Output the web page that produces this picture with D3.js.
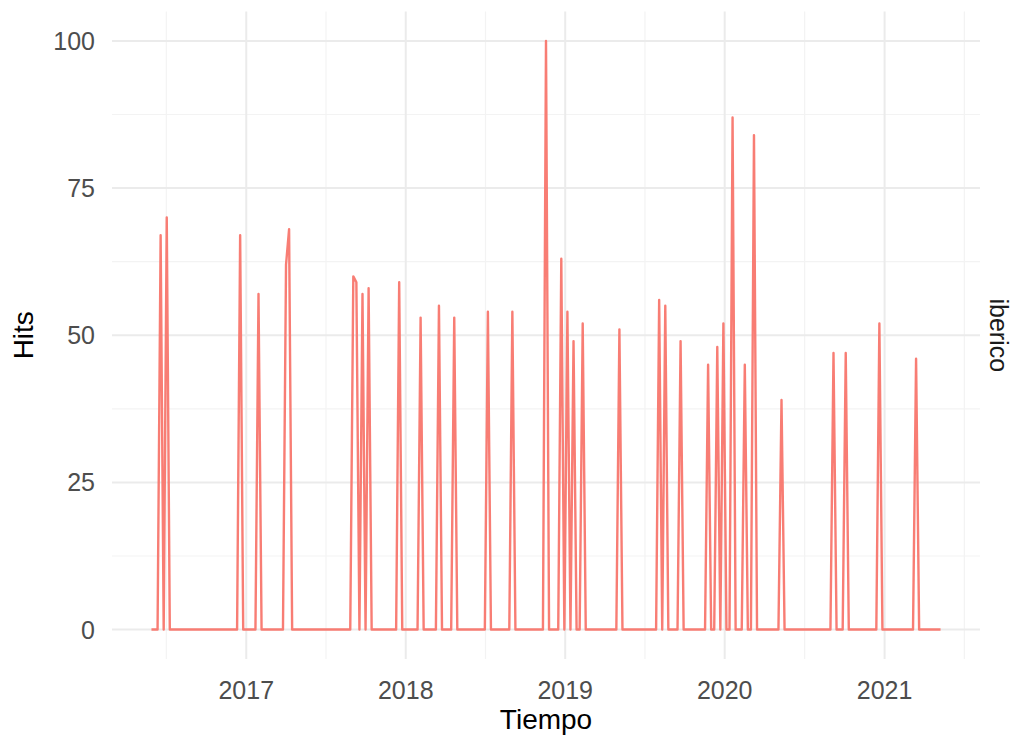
<!DOCTYPE html>
<html>
<head>
<meta charset="utf-8">
<script src="https://cdn.jsdelivr.net/npm/d3@7"></script>
<style>
  html, body { margin: 0; padding: 0; background: #fff; overflow: hidden; }
  svg { display: block; }
  text { font-family: "Liberation Sans", Arial, sans-serif; }
</style>
</head>
<body>
<svg id="chart" width="1014" height="737"></svg>
<script>
// weekly Google Trends hits, one value per week starting at weekStart
const weekStart = "2016-05-29";
const hits = [
    0, 0, 0, 67, 0, 70, 0, 0, 0, 0, 0, 0, 0, 0, 0, 0, 0, 0, 0, 0,
    0, 0, 0, 0, 0, 0, 0, 0, 0, 67, 0, 0, 0, 0, 0, 57, 0, 0, 0, 0,
    0, 0, 0, 0, 62, 68, 0, 0, 0, 0, 0, 0, 0, 0, 0, 0, 0, 0, 0, 0,
    0, 0, 0, 0, 0, 0, 60, 59, 0, 57, 0, 58, 0, 0, 0, 0, 0, 0, 0, 0,
    0, 59, 0, 0, 0, 0, 0, 0, 53, 0, 0, 0, 0, 0, 55, 0, 0, 0, 0, 53,
    0, 0, 0, 0, 0, 0, 0, 0, 0, 0, 54, 0, 0, 0, 0, 0, 0, 0, 54, 0,
    0, 0, 0, 0, 0, 0, 0, 0, 0, 100, 0, 0, 0, 0, 63, 0, 54, 0, 49, 0,
    0, 52, 0, 0, 0, 0, 0, 0, 0, 0, 0, 0, 0, 51, 0, 0, 0, 0, 0, 0,
    0, 0, 0, 0, 0, 0, 56, 0, 55, 0, 0, 0, 0, 49, 0, 0, 0, 0, 0, 0,
    0, 0, 45, 0, 0, 48, 0, 52, 0, 0, 87, 0, 0, 0, 45, 0, 0, 84, 0, 0,
    0, 0, 0, 0, 0, 0, 39, 0, 0, 0, 0, 0, 0, 0, 0, 0, 0, 0, 0, 0,
    0, 0, 0, 47, 0, 0, 0, 47, 0, 0, 0, 0, 0, 0, 0, 0, 0, 0, 52, 0,
    0, 0, 0, 0, 0, 0, 0, 0, 0, 0, 46, 0, 0, 0, 0, 0, 0, 0, 0
];
const yTicks = [0, 25, 50, 75, 100];
const yMinor = [12.5, 37.5, 62.5, 87.5];
const yearTicks = ["2017", "2018", "2019", "2020", "2021"];
const facetLabel = "iberico";
const xTitle = "Tiempo";
const yTitle = "Hits";

const parseDay = d3.utcParse("%Y-%m-%d");
const parseYear = d3.utcParse("%Y");

const data = hits.map((v, i) => ({
    date: d3.utcDay.offset(parseDay(weekStart), 7 * i),
    hits: v
}));

const svg = d3.select('#chart');
const panel = { left: 112, right: 980, top: 11.5, bottom: 659 };

// ggplot style 5% expansion on both axes
const ext = d3.extent(data, d => d.date);
const pad = (ext[1] - ext[0]) * 0.05;
const x = d3.scaleUtc()
    .domain([new Date(+ext[0] - pad), new Date(+ext[1] + pad)])
    .range([panel.left, panel.right]);
const y = d3.scaleLinear()
    .domain([-5, 105])
    .range([panel.bottom, panel.top]);

const majorYears = yearTicks.map(parseYear);
// minor breaks sit halfway between the yearly majors
const allYears = d3.utcYear.range(parseYear("2016"), parseYear("2023"));
const minorYears = d3.pairs(allYears)
    .map(([a, b]) => new Date((+a + +b) / 2))
    .filter(d => d >= x.domain()[0] && d <= x.domain()[1]);

const grid = svg.append('g').attr('class', 'grid');
grid.selectAll('line.ymin')
    .data(yMinor)
    .enter()
    .append('line')
    .attr('x1', panel.left).attr('x2', panel.right)
    .attr('y1', d => y(d)).attr('y2', d => y(d))
    .attr('stroke', '#f3f3f3').attr('stroke-width', 1.2);
grid.selectAll('line.xmin')
    .data(minorYears)
    .enter()
    .append('line')
    .attr('x1', d => x(d)).attr('x2', d => x(d))
    .attr('y1', panel.top).attr('y2', panel.bottom)
    .attr('stroke', '#f3f3f3').attr('stroke-width', 1.2);
grid.selectAll('line.ymaj')
    .data(yTicks)
    .enter()
    .append('line')
    .attr('x1', panel.left).attr('x2', panel.right)
    .attr('y1', d => y(d)).attr('y2', d => y(d))
    .attr('stroke', '#ebebeb').attr('stroke-width', 2);
grid.selectAll('line.xmaj')
    .data(majorYears)
    .enter()
    .append('line')
    .attr('x1', d => x(d)).attr('x2', d => x(d))
    .attr('y1', panel.top).attr('y2', panel.bottom)
    .attr('stroke', '#ebebeb').attr('stroke-width', 2);

const line = d3.line()
    .x(d => x(d.date))
    .y(d => y(d.hits));

svg.append('path')
    .datum(data)
    .attr('fill', 'none')
    .attr('stroke', '#F8766D')
    .attr('stroke-opacity', 0.95)
    .attr('stroke-width', 2.4)
    .attr('stroke-linejoin', 'round')
    .attr('d', line);

// tick labels
svg.append('g')
    .selectAll('text')
    .data(yTicks)
    .enter()
    .append('text')
    .attr('transform', d => `translate(95,${y(d) + 9})`)
    .attr('text-anchor', 'end')
    .attr('font-size', 25)
    .attr('fill', '#4d4d4d')
    .text(d => d);

svg.append('g')
    .selectAll('text')
    .data(majorYears)
    .enter()
    .append('text')
    .attr('transform', d => `translate(${x(d)},699)`)
    .attr('text-anchor', 'middle')
    .attr('font-size', 25)
    .attr('fill', '#4d4d4d')
    .text(d => d3.utcFormat('%Y')(d));

// axis titles
svg.append('text')
    .attr('transform', `translate(${(panel.left + panel.right) / 2},729)`)
    .attr('text-anchor', 'middle')
    .attr('font-size', 28)
    .attr('fill', '#000')
    .text(xTitle);

svg.append('text')
    .attr('transform', `translate(33,${(panel.top + panel.bottom) / 2}) rotate(-90)`)
    .attr('text-anchor', 'middle')
    .attr('font-size', 28)
    .attr('fill', '#000')
    .text(yTitle);

// facet strip on the right edge
svg.append('text')
    .attr('transform', `translate(990,${(panel.top + panel.bottom) / 2}) rotate(90)`)
    .attr('text-anchor', 'middle')
    .attr('font-size', 25)
    .attr('fill', '#1a1a1a')
    .text(facetLabel);
</script>
</body>
</html>
